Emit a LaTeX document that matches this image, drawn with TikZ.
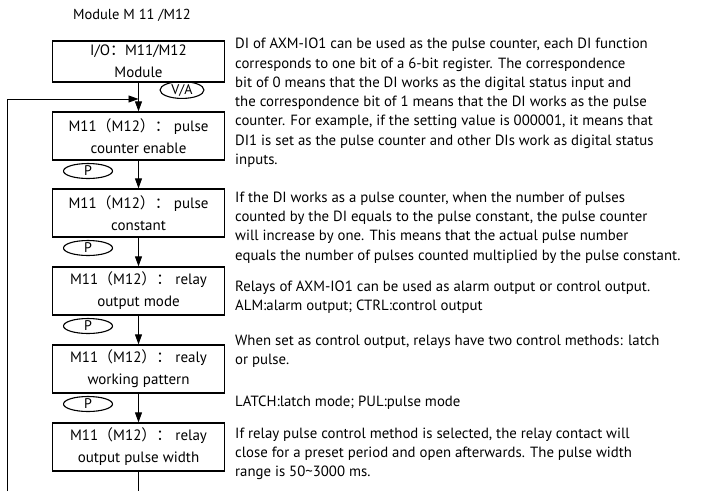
\documentclass[tikz,border=0pt]{standalone}
\usepackage{fontspec}
\setmainfont{PT Sans}
\newfontfamily\cjk{Noto Sans CJK SC}
\usetikzlibrary{arrows.meta,shapes.geometric}
\newcommand{\mm}{M11{\cjk （}M12{\cjk ）：}}
\begin{document}
\begin{tikzpicture}[x=1pt,y=-1pt,
  stepbox/.style={draw,line width=1.3pt,minimum width=172pt,minimum height=48pt,align=center,inner sep=0pt,font=\fontsize{15}{22}\selectfont},
  keyoval/.style={draw,ellipse,line width=1.1pt,minimum width=49pt,minimum height=15pt,inner sep=0pt,font=\fontsize{14}{14}\selectfont},
  desc/.style={anchor=north west,align=left,inner sep=0pt,font=\fontsize{14.8}{19.3}\selectfont},
  flow/.style={line width=0.9pt,-{Triangle[length=10pt,width=7pt]}},
  plain/.style={line width=0.9pt}]
\useasboundingbox (0,0) rectangle (711,491);
\fill[white] (0,0) rectangle (711,491);
\node[font=\fontsize{14.5}{16}\selectfont] (title) at (132,15) {Module M 11 /M12};
\node[stepbox,minimum height=41pt] (b1) at (138.5,61.5) {I/O{\cjk ：}M11/M12\\Module};
\node[stepbox] (b2) at (138.5,136) {\mm{} pulse\\counter enable};
\node[stepbox] (b3) at (138.5,213) {\mm{} pulse\\constant};
\node[stepbox] (b4) at (138.5,291) {\mm{} relay\\output mode};
\node[stepbox] (b5) at (138.5,369) {\mm{} realy\\working pattern};
\node[stepbox] (b6) at (138.5,447) {\mm{} relay\\output pulse width};
\node[keyoval,minimum width=44pt,minimum height=16pt] (va) at (182,90) {V/A};
\node[keyoval] (p1) at (88,171) {P};
\node[keyoval] (p2) at (88,248) {P};
\node[keyoval] (p3) at (88,326) {P};
\node[keyoval] (p4) at (88,404) {P};
\coordinate (fb0) at (7,491);
\coordinate (fb1) at (7,99);
\coordinate (bend) at (138.5,491);
\draw[flow] (b1) -- (b2);
\draw[flow] (b2) -- (b3);
\draw[flow] (b3) -- (b4);
\draw[flow] (b4) -- (b5);
\draw[flow] (b5) -- (b6);
\draw[plain] (b6) -- (bend);
\draw[flow] (fb0) -- (fb1) -- (b1.south |- fb1);
\node[desc] (t1) at (235,38) {DI of AXM-IO1 can be used as the pulse counter, each DI function\\corresponds to one bit of a 6-bit register. The correspondence\\bit of 0 means that the DI works as the digital status input and\\the correspondence bit of 1 means that the DI works as the pulse\\counter. For example, if the setting value is 000001, it means that\\DI1 is set as the pulse counter and other DIs work as digital status\\inputs.};
\node[desc] (t2) at (235,191.5) {If the DI works as a pulse counter, when the number of pulses\\counted by the DI equals to the pulse constant, the pulse counter\\will increase by one. This means that the actual pulse number\\equals the number of pulses counted multiplied by the pulse constant.};
\node[desc] (t3) at (235,280.5) {Relays of AXM-IO1 can be used as alarm output or control output.\\ALM:alarm output; CTRL:control output};
\node[desc] (t4) at (235,334.5) {When set as control output, relays have two control methods: latch\\or pulse.};
\node[desc] (t5) at (235,395.5) {LATCH:latch mode; PUL:pulse mode};
\node[desc] (t6) at (235,427.5) {If relay pulse control method is selected, the relay contact will\\close for a preset period and open afterwards. The pulse width\\range is 50\textasciitilde3000 ms.};
\end{tikzpicture}
\end{document}
